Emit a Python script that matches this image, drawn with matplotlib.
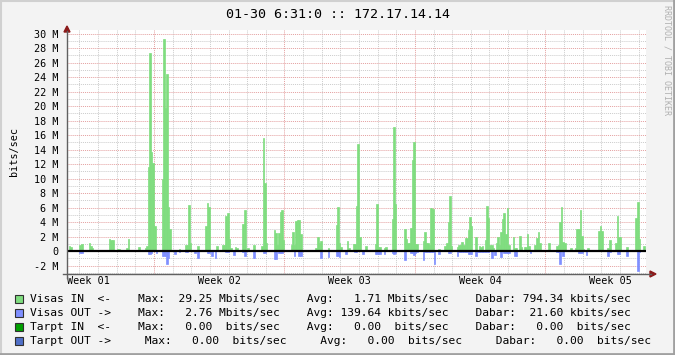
import numpy as np
import matplotlib
matplotlib.use('Agg')
import matplotlib.pyplot as plt
from matplotlib.lines import Line2D
from matplotlib.patches import Polygon, Rectangle

W, H = 675, 355
MONO = 'DejaVu Sans Mono'

# traffic, Mbit/s, one value per 2 hour slot counted from the start of Week 01
in_slot = [29, 30, 35, 36, 37, 42, 43, 44, 55, 56, 57, 58, 60, 61, 66, 67, 74, 78, 79,
           80, 81, 82, 83, 84, 85, 89, 90, 91, 92, 93, 94, 100,
           104, 105, 106, 107, 112, 117, 118, 119, 123, 124, 128, 129, 130, 131, 132, 133,
           134, 135, 136, 137, 141, 142, 143, 144, 148, 153, 154, 155, 156, 161, 162, 163,
           164, 165, 166, 167, 172, 173, 174, 175, 176, 177, 178,
           188, 189, 190, 191, 196, 201, 202, 203, 204, 208, 209, 212, 213, 214, 215, 216,
           218, 220, 226, 227, 228, 229, 232, 233, 237, 238, 239, 244, 245, 246, 247, 248,
           249, 250, 251, 252,
           253, 257, 258, 259, 260, 261, 262, 263, 264, 267, 271, 272, 273, 274, 275, 279,
           280, 281, 282, 283, 284, 285, 286, 287, 288, 289, 291, 293, 294, 295, 297, 298,
           299, 300, 301, 302, 304, 305, 306, 307, 308, 309, 310, 311, 312, 315, 316, 317,
           319, 320, 322, 323, 324, 325, 329,
           330, 331, 332, 337, 338, 343, 344, 345, 346, 347, 348, 352, 355, 356, 357, 358,
           359, 360, 362, 363, 370, 371, 372, 376, 377, 381, 382, 383, 384, 388, 394, 395,
           396, 397, 399]
in_mbit = [0.7, 0.5, 0.15, 0.8, 0.95, 1.05, 0.75, 0.35, 1.65, 1.5, 1.5, 0.1, 0.3, 0.3, 0.35, 1.65, 0.55, 0.45, 0.7,
           11.6, 27.3, 13.6, 12.2, 3.4, 0.15, 10.0, 29.25, 19.7, 24.4, 6.1, 3.1, 0.3,
           0.8, 0.8, 6.3, 1.05, 0.7, 3.4, 6.6, 6.05, 0.15, 0.7, 0.9, 0.9, 4.9, 5.3, 1.65, 0.35,
           0.15, 0.15, 0.5, 0.45, 3.7, 5.65, 0.15, 0.35, 0.8, 0.7, 15.6, 9.35, 1.05, 2.9, 2.5, 0.8,
           2.5, 5.4, 5.6, 1.5, 0.8, 2.6, 0.8, 4.2, 4.3, 4.3, 2.35,
           0.35, 2.0, 1.05, 1.4, 0.35, 3.6, 6.05, 1.05, 0.5, 1.4, 0.35, 1.0, 1.0, 6.2, 14.8, 1.9,
           0.15, 0.7, 1.0, 6.5, 0.6, 0.5, 0.35, 0.55, 4.4, 17.1, 6.5, 0.15, 3.1, 1.65, 1.05, 1.05,
           3.2, 12.5, 15.0, 1.0,
           1.0, 1.4, 2.6, 1.05, 1.05, 0.8, 5.9, 5.8, 0.2, 0.25, 0.7, 1.05, 3.95, 7.6, 0.7, 0.6,
           0.9, 0.9, 1.25, 0.8, 1.75, 1.75, 2.9, 4.65, 3.5, 0.15, 1.9, 0.7, 0.5, 0.7, 1.5, 6.2,
           4.6, 0.8, 0.8, 0.35, 1.05, 1.9, 0.9, 2.65, 4.4, 5.3, 2.35, 5.95, 0.8, 1.9, 0.35, 0.35,
           2.1, 0.5, 0.6, 0.6, 2.35, 0.7, 0.8,
           1.85, 2.6, 1.05, 0.15, 1.05, 0.7, 0.8, 4.0, 6.05, 1.3, 1.15, 0.35, 0.35, 3.0, 3.1, 5.65,
           2.05, 0.25, 0.2, 0.35, 2.75, 3.4, 2.75, 0.35, 1.5, 1.05, 4.8, 2.0, 1.95, 0.55, 4.5, 6.75,
           1.6, 0.15, 0.7]

out_slot = [36, 37, 80, 81, 82, 85, 89, 90, 91, 92, 93, 97, 100,
            104, 105, 110, 112, 118, 119, 121, 123, 130, 131, 135, 141, 142, 148, 154, 155,
            161, 162, 164, 165, 166, 174, 177, 178,
            191, 196, 201, 202, 203, 207, 213, 214, 218, 226, 227, 228, 229, 232, 237, 238,
            239, 245, 249, 250, 251, 252,
            253, 257, 258, 259, 260, 261, 262, 263, 264, 267, 273, 274, 279, 280, 281, 282,
            283, 284, 285, 286, 287, 288, 291, 292, 293, 294, 295, 296, 297, 298, 299, 301,
            303, 307, 309, 310, 311, 312, 316, 317, 326,
            343, 344, 345, 347, 357, 358, 359, 362, 376, 377, 382, 383, 388, 395, 396]
out_mbit = [0.3, 0.3, 0.45, 0.45, 0.3, 0.3, 0.65, 0.65, 0.65, 1.8, 0.9, 0.4, 0.15,
            0.15, 0.15, 0.3, 1.0, 0.25, 0.25, 0.65, 1.0, 0.2, 0.2, 0.5, 0.15, 0.7, 1.0, 0.3, 0.3,
            1.05, 1.05, 0.3, 0.3, 0.3, 0.65, 0.65, 0.65,
            1.0, 0.8, 0.65, 0.65, 0.8, 0.45, 0.2, 0.2, 0.45, 0.4, 0.4, 0.4, 0.4, 0.45, 0.25, 0.45,
            0.25, 1.2, 0.3, 0.3, 0.55, 0.3,
            0.15, 1.25, 0.2, 0.2, 0.2, 0.2, 0.2, 0.2, 1.75, 0.4, 0.25, 0.25, 0.65, 0.2, 0.2, 0.2,
            0.2, 0.2, 0.2, 0.35, 0.35, 0.45, 0.65, 0.2, 0.2, 0.2, 0.2, 0.2, 0.2, 0.2, 0.2, 1.0,
            0.5, 0.8, 0.3, 0.3, 0.3, 0.3, 0.65, 0.65, 0.3,
            0.2, 0.2, 1.75, 0.7, 0.3, 0.3, 0.3, 0.55, 0.7, 0.2, 0.45, 0.45, 0.7, 2.76, 0.2]

week_labels = ['Week 01', 'Week 02', 'Week 03', 'Week 04', 'Week 05']
title = '01-30 6:31:0 :: 172.17.14.14'
legend_rows = [
    ('#7FDD7F', 'Visas IN  <-    Max:  29.25 Mbits/sec    Avg:   1.71 Mbits/sec    Dabar: 794.34 kbits/sec'),
    ('#7F8FFF', 'Visas OUT ->    Max:   2.76 Mbits/sec    Avg: 139.64 kbits/sec    Dabar:  21.60 kbits/sec'),
    ('#00A000', 'Tarpt IN  <-    Max:   0.00  bits/sec    Avg:   0.00  bits/sec    Dabar:   0.00  bits/sec'),
    ('#5070C8', 'Tarpt OUT ->     Max:   0.00  bits/sec     Avg:   0.00  bits/sec     Dabar:   0.00  bits/sec'),
]


def fx(x):
    return x / W


def fy(y):
    return 1 - y / H


fig = plt.figure(figsize=(W / 100, H / 100), dpi=100, facecolor='#F3F3F3')
ax = fig.add_axes([fx(67), fy(274), (646 - 67) / W, (274 - 30) / H])
ax.set_facecolor('white')
ax.set_axisbelow(True)

ax.bar(np.array(in_slot) / 12, in_mbit, width=1 / 12, align='edge',
       color='#7FDD7F', edgecolor='#7FDD7F', linewidth=0.5, zorder=2)
ax.bar(np.array(out_slot) / 12, -np.array(out_mbit), width=1 / 12, align='edge',
       color='#7F8FFF', edgecolor='#7F8FFF', linewidth=0.5, zorder=2)
ax.axhline(0, color='black', linewidth=1.6, zorder=3)

ax.set_xlim(2.334, 33.4)
ax.set_ylim(-3.17, 30.5)

yt = np.arange(-2, 31, 2)
ax.set_yticks(yt)
ax.set_yticklabels(['0' if v == 0 else '%d M' % v for v in yt], family=MONO, fontsize=7.3)
ax.set_yticks(np.arange(-3, 31, 1), minor=True)
ax.set_xticks([7, 14, 21, 28])
ax.set_xticklabels([])
ax.set_xticks(np.arange(3, 34), minor=True)
ax.tick_params(which='both', length=0)
ax.tick_params(axis='y', pad=6)
ax.grid(which='major', color='#E4A0A0', linestyle=(0, (1, 1)), linewidth=0.7)
ax.grid(which='minor', color='#CCCCCC', linestyle=(0, (1, 1)), linewidth=0.7)
for s in ax.spines.values():
    s.set_visible(False)

for i, lab in enumerate(week_labels):
    ax.text(i * 7 + 3.5, -0.03, lab, transform=ax.get_xaxis_transform(),
            ha='center', va='center', family=MONO, fontsize=7.3)

ax.set_ylabel('bits/sec', family=MONO, fontsize=7.3, labelpad=11)

# axis lines with rrdtool style arrows
fig.add_artist(Line2D([fx(67), fx(67)], [fy(278), fy(31)], color='#606060', linewidth=1))
fig.add_artist(Line2D([fx(63), fx(651)], [fy(274), fy(274)], color='#606060', linewidth=1))
fig.add_artist(Polygon([(fx(64), fy(32)), (fx(70), fy(32)), (fx(67), fy(26))],
                       closed=True, color='#8B1A1A'))
fig.add_artist(Polygon([(fx(650), fy(271)), (fx(650), fy(277)), (fx(656), fy(274))],
                       closed=True, color='#8B1A1A'))

fig.text(fx(338), fy(14), title, ha='center', va='center', family=MONO, fontsize=9.6)
fig.text(fx(667), fy(5), 'RRDTOOL / TOBI OETIKER', ha='center', va='top', rotation=270,
         family=MONO, fontsize=6, color='#B0B0B0')

for i, (col, row) in enumerate(legend_rows):
    yc = 299 + i * 14
    fig.add_artist(Rectangle((fx(15), fy(yc + 4)), 8 / W, 8 / H, facecolor=col,
                             edgecolor='#303030', linewidth=0.8))
    fig.text(fx(30), fy(yc), row, ha='left', va='center', family=MONO, fontsize=8.15)

# outer frame
fig.add_artist(Line2D([0, 1], [fy(0.5), fy(0.5)], color='#D0D0D0', linewidth=1.5))
fig.add_artist(Line2D([fx(0.5), fx(0.5)], [0, 1], color='#D0D0D0', linewidth=1.5))
fig.add_artist(Line2D([0, 1], [fy(354), fy(354)], color='#A0A0A0', linewidth=2))
fig.add_artist(Line2D([fx(674), fx(674)], [0, 1], color='#A0A0A0', linewidth=2))

fig.savefig('out.png', dpi=100, facecolor=fig.get_facecolor())
